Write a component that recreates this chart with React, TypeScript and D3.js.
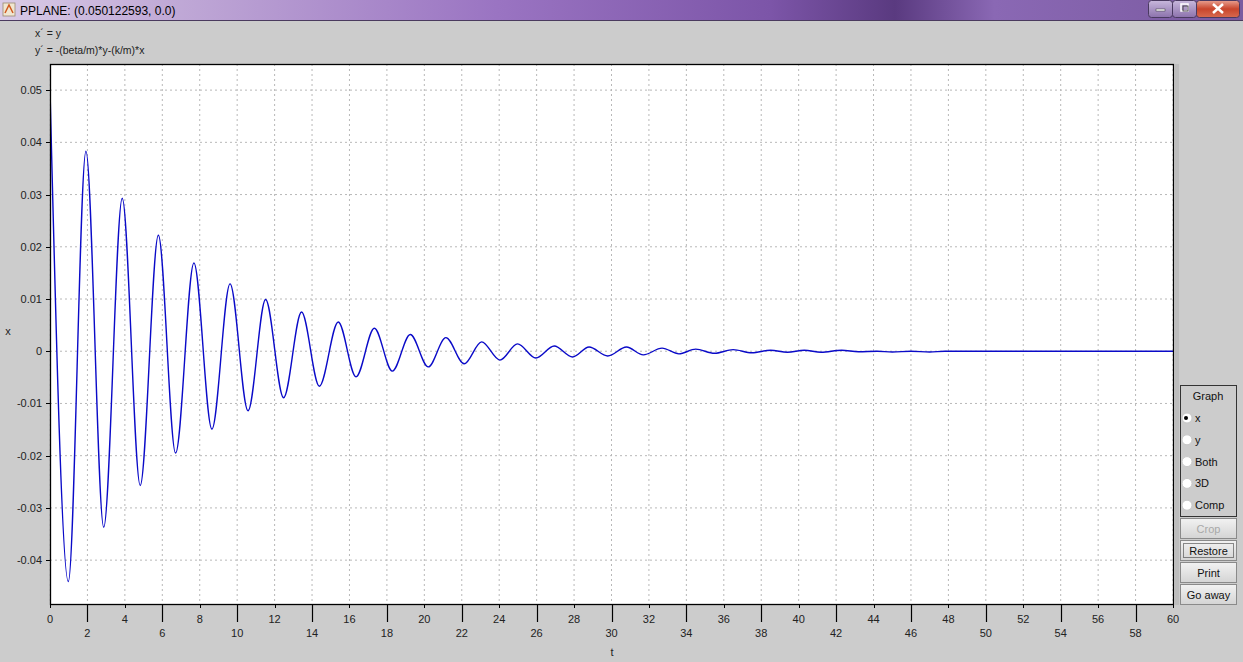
import React from "react";
import * as d3 from "d3";

// Extrema of x(t) (t, x)
const timePoints = [0, 0.98, 1.92, 2.87, 3.86, 4.82, 5.79, 6.71, 7.69, 8.65, 9.62, 10.58, 11.52, 12.48, 13.44, 14.39, 15.4, 16.35, 17.33, 18.29, 19.25, 20.21, 21.15, 22.13, 23.06, 24.04, 24.98, 25.96, 26.94, 27.92, 28.8, 29.8, 30.8, 31.7, 32.7, 33.6, 34.5, 35.5, 36.5, 37.5, 38.5, 39.4, 40.3, 41.2, 42.3, 43.2, 44.2, 45.0, 46.0, 47.0, 47.8, 60];
const xValues = [0.0501, -0.0441, 0.0383, -0.0337, 0.0293, -0.0257, 0.0222, -0.0195, 0.0169, -0.0149, 0.0129, -0.0114, 0.0099, -0.0089, 0.0075, -0.0067, 0.0056, -0.0049, 0.0044, -0.0038, 0.0032, -0.003, 0.0026, -0.0024, 0.0018, -0.0017, 0.0014, -0.0013, 0.001, -0.0011, 0.0008, -0.0009, 0.0008, -0.0007, 0.0006, -0.0005, 0.0004, -0.0004, 0.0003, -0.0003, 0.0002, -0.0002, 0.0002, -0.0002, 0.0002, -0.0001, 0.0, -0.00015, 0.0, -0.00015, 0.0, 0.0];

const xTicks = d3.range(0, 61, 2);
const yTicks = [0.05, 0.04, 0.03, 0.02, 0.01, 0, -0.01, -0.02, -0.03, -0.04];
const equations = ["x´ = y", "y´ = -(beta/m)*y-(k/m)*x"];
const radioLabels = ["x", "y", "Both", "3D", "Comp"];
const buttonLabels = ["Crop", "Restore", "Print", "Go away"];
const titleText = "PPLANE: (0.050122593, 0.0)";

const W = 1243;
const H = 662;
const plot = { left: 50, right: 1173, top: 64, bottom: 604 };
const FONT = "'Liberation Sans', Arial, sans-serif";

export default function App() {
  const xScale = d3.scaleLinear().domain([0, 60]).range([plot.left, plot.right]);
  const yScale = d3.scaleLinear().domain([-0.0484, 0.055]).range([plot.bottom, plot.top]);
  const data = timePoints.map((t, i) => [t, xValues[i]] as [number, number]);
  const line = d3
    .line<[number, number]>()
    .x((d) => xScale(d[0]))
    .y((d) => yScale(d[1]))
    .curve(d3.curveMonotoneX);

  const fmtY = (v: number) => (v === 0 ? "0" : v.toFixed(2));

  return (
    <svg
      width={W}
      height={H}
      style={{ position: "absolute", left: 0, top: 0, display: "block" }}
      fontFamily={FONT}
    >
      <defs>
        <linearGradient id="title" x1="0" x2="1" y1="0" y2="0">
          <stop offset="0" stopColor="#d9cbe6" />
          <stop offset="0.12" stopColor="#c3add8" />
          <stop offset="0.4" stopColor="#9a74c2" />
          <stop offset="0.62" stopColor="#7c55a8" />
          <stop offset="0.72" stopColor="#5a3a80" />
          <stop offset="0.8" stopColor="#8a68b4" />
          <stop offset="1" stopColor="#7a5aa0" />
        </linearGradient>
        <linearGradient id="btn" x1="0" x2="0" y1="0" y2="1">
          <stop offset="0" stopColor="#f2f2f2" />
          <stop offset="1" stopColor="#d4d4d4" />
        </linearGradient>
        <linearGradient id="close" x1="0" x2="0" y1="0" y2="1">
          <stop offset="0" stopColor="#e8a090" />
          <stop offset="0.5" stopColor="#c8452c" />
          <stop offset="1" stopColor="#d86a50" />
        </linearGradient>
        <linearGradient id="winbtn" x1="0" x2="0" y1="0" y2="1">
          <stop offset="0" stopColor="#c8b8dc" />
          <stop offset="1" stopColor="#8c72ac" />
        </linearGradient>
        <clipPath id="plotclip">
          <rect x={plot.left} y={plot.top} width={plot.right - plot.left} height={plot.bottom - plot.top} />
        </clipPath>
      </defs>

      {/* window body */}
      <rect x={0} y={0} width={W} height={H} fill="#cccccc" />
      {/* title bar */}
      <rect x={0} y={0} width={W} height={20} fill="url(#title)" />
      <line x1={0} x2={W} y1={20.5} y2={20.5} stroke="#4a3a5e" />
      <rect x={3} y={3} width={12} height={13} fill="#f0e6d0" stroke="#9a8a70" strokeWidth={0.8} />
      <path d="M5,13 L9,5 L13,13" fill="none" stroke="#d05a20" strokeWidth={1.5} />
      <text x={20} y={15} fontSize={12} fill="#000">{titleText}</text>
      {/* window buttons */}
      <rect x={1148.5} y={0.5} width={24} height={17} rx={3} fill="url(#winbtn)" stroke="#4a3a60" />
      <rect x={1156} y={9} width={9} height={2} fill="#fff" stroke="#333" strokeWidth={0.5} />
      <rect x={1172.5} y={0.5} width={24} height={17} rx={3} fill="url(#winbtn)" stroke="#4a3a60" />
      <rect x={1181} y={4} width={7} height={7} fill="none" stroke="#fff" strokeWidth={1.5} />
      <rect x={1183} y={6} width={5} height={5} fill="none" stroke="#333" strokeWidth={0.8} />
      <rect x={1196.5} y={0.5} width={43} height={17} rx={3} fill="url(#close)" stroke="#4a3a60" />
      <path d="M1213,4 L1223,13 M1223,4 L1213,13" stroke="#fff" strokeWidth={2.5} />

      {/* equations */}
      {equations.map((e, i) => (
        <text key={e} x={35} y={37 + i * 17} fontSize={10.5} fill="#222">{e}</text>
      ))}

      {/* plot area */}
      <rect x={plot.left} y={plot.top} width={plot.right - plot.left} height={plot.bottom - plot.top} fill="#fff" />
      {/* grid */}
      {xTicks.map((t) => (
        <line key={"gx" + t} x1={xScale(t)} x2={xScale(t)} y1={plot.top} y2={plot.bottom}
          stroke="#b8b8b8" strokeDasharray="2,3" strokeWidth={1} />
      ))}
      {yTicks.map((v) => (
        <line key={"gy" + v} x1={plot.left} x2={plot.right} y1={yScale(v)} y2={yScale(v)}
          stroke="#b8b8b8" strokeDasharray="2,3" strokeWidth={1} />
      ))}
      {/* curve */}
      <path d={line(data) || ""} fill="none" stroke="#0a0ac8" strokeWidth={1.4} clipPath="url(#plotclip)" />
      {/* border */}
      <rect x={plot.left + 0.5} y={plot.top + 0.5} width={plot.right - plot.left} height={plot.bottom - plot.top}
        fill="none" stroke="#000" strokeWidth={1.3} />
      <rect x={plot.right + 1} y={plot.top} width={5} height={plot.bottom - plot.top + 1} fill="#bdbdbd" />

      {/* y axis ticks & labels */}
      {yTicks.map((v) => (
        <g key={"yt" + v}>
          <line x1={plot.left - 4} x2={plot.left} y1={Math.round(yScale(v)) + 0.5} y2={Math.round(yScale(v)) + 0.5} stroke="#000" />
          <text x={42} y={yScale(v) + 4} fontSize={11} textAnchor="end" fill="#222">{fmtY(v)}</text>
        </g>
      ))}
      <text x={8} y={335} fontSize={11} textAnchor="middle" fill="#222">x</text>

      {/* x axis ticks & labels */}
      {xTicks.map((t, i) => {
        const long = i % 2 === 1;
        const px = Math.round(xScale(t)) + 0.5;
        return (
          <g key={"xt" + t}>
            <line x1={px} x2={px} y1={plot.bottom} y2={long ? 622 : 608} stroke="#000" strokeWidth={long ? 1.2 : 1} />
            <text x={xScale(t)} y={long ? 637 : 623} fontSize={11} textAnchor="middle" fill="#222">{t}</text>
          </g>
        );
      })}
      <text x={612} y={656} fontSize={11} textAnchor="middle" fill="#222">t</text>

      {/* right panel */}
      <rect x={1180.5} y={385.5} width={56} height={131} fill="#cccccc" stroke="#333" strokeWidth={1} />
      <text x={1208} y={400} fontSize={11} textAnchor="middle" fill="#111">Graph</text>
      {radioLabels.map((r, i) => {
        const cy = 418 + i * 21.8;
        return (
          <g key={r}>
            <circle cx={1187} cy={cy} r={5} fill="#fff" stroke="#c8c8c8" />
            {i === 0 && <circle cx={1186} cy={cy} r={2} fill="#000" />}
            <text x={1195} y={cy + 4} fontSize={11} fill="#111">{r}</text>
          </g>
        );
      })}
      {buttonLabels.map((b, i) => {
        const y = 518 + i * 22;
        return (
          <g key={b}>
            <rect x={1180.5} y={y + 0.5} width={56} height={20} fill="url(#btn)" stroke="#8a8a8a" />
            {b === "Restore" && (
              <rect x={1183.5} y={y + 3.5} width={50} height={14} fill="none" stroke="#222" strokeDasharray="1,1" />
            )}
            <text x={1208.5} y={y + 15} fontSize={11} textAnchor="middle" fill={i === 0 ? "#a8a8a8" : "#111"}>{b}</text>
          </g>
        );
      })}
    </svg>
  );
}
